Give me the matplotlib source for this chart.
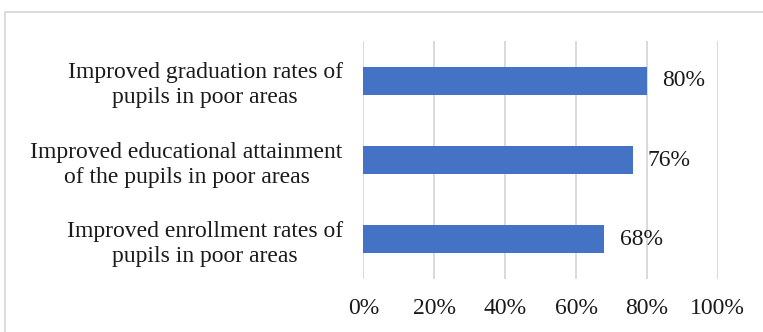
import matplotlib.pyplot as plt
from matplotlib.patches import Rectangle

# survey results, bottom to top
categories = [
    "Improved enrollment rates of\npupils in poor areas",
    "Improved educational attainment\nof the pupils in poor areas",
    "Improved graduation rates of\npupils in poor areas",
]
shares = [68, 76, 80]
ticks = [0, 20, 40, 60, 80, 100]

plt.rcParams['font.family'] = ['Liberation Serif', 'DejaVu Serif']

fig = plt.figure(figsize=(7.63, 3.32), dpi=100)
ax = fig.add_axes([0.4764, 0.1596, 0.4642, 0.7169])

# light border around the chart area
fig.patches.append(Rectangle((5 / 763, -0.05), 1.2, 0.9639 + 0.05,
                             transform=fig.transFigure, fill=False,
                             edgecolor='#d9d9d9', linewidth=1.3))

y = range(len(categories))
ax.barh(y, shares, height=0.35, color='#4472c4', zorder=3)

for i, v in enumerate(shares):
    ax.annotate(f"{v}%", (v, i), xytext=(11, 0), textcoords='offset points',
                va='center', ha='left', fontsize=17, color='#1a1a1a')

ax.set_xlim(0, 100)
ax.set_ylim(-0.5, 2.5)
ax.set_xticks(ticks)
ax.set_xticklabels([f"{t}%" for t in ticks])
ax.set_yticks(list(y))
ax.set_yticklabels(categories, multialignment='center', linespacing=1.25)
ax.tick_params(axis='both', length=0, labelsize=17, colors='#1a1a1a')
ax.tick_params(axis='x', pad=14)
ax.tick_params(axis='y', pad=15)

ax.grid(axis='x', color='#d9d9d9', linewidth=1.4, zorder=0)
for s in ax.spines.values():
    s.set_visible(False)

fig.savefig('out.png', dpi=100)
